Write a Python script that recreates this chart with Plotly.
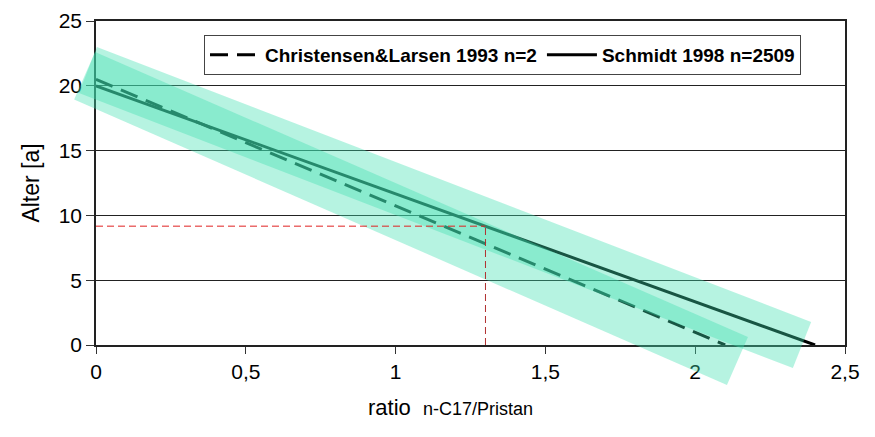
import plotly.graph_objects as go

# ---------------- data ----------------
chr_x = [0.0, 2.1]
chr_y = [20.5, 0.0]
sch_x = [0.0, 2.4]
sch_y = [20.0, 0.0]

# uncertainty bands (hand drawn rotated rectangles, corners)
band_chr_x = [-0.003, 2.176, 2.106, -0.073, -0.003]
band_chr_y = [22.61, 0.62, -3.09, 18.94, 22.61]
band_sch_x = [0.003, 2.387, 2.326, -0.057, 0.003]
band_sch_y = [22.99, 1.78, -1.78, 19.44, 22.99]

# reference reading
ref_x = 1.3
ref_y = 9.17

x_ticks = [0, 0.5, 1, 1.5, 2, 2.5]
y_ticks = [0, 5, 10, 15, 20, 25]

names = ["Christensen&Larsen 1993 n=2", "Schmidt 1998 n=2509"]
x_title = "ratio"
x_subtitle = "n-C17/Pristan"
y_title = "Alter [a]"

# ---------------- layout geometry ----------------
W, H = 875, 437
PL, PR, PT, PB = 96, 845, 21, 345  # plot area in px
XMIN, XMAX, YMIN, YMAX = 0, 2.5, 0, 25

xd = [PL / W, PR / W]
yd = [(H - PB) / H, (H - PT) / H]
xpp = (XMAX - XMIN) / (PR - PL)
ypp = (YMAX - YMIN) / (PB - PT)
x2r = [XMIN - PL * xpp, XMAX + (W - PR) * xpp]
y2r = [YMIN - (H - PB) * ypp, YMAX + PT * ypp]

FONT = "Arial, Liberation Sans, sans-serif"
BAND = "rgba(64,224,176,0.38)"

fig = go.Figure()

fig.add_trace(go.Scatter(x=chr_x, y=chr_y, mode="lines", name=names[0],
                         line=dict(color="black", width=3, dash="18px,9px"),
                         xaxis="x", yaxis="y"))
fig.add_trace(go.Scatter(x=sch_x, y=sch_y, mode="lines", name=names[1],
                         line=dict(color="black", width=3),
                         xaxis="x", yaxis="y"))

for bx, by in [(band_sch_x, band_sch_y), (band_chr_x, band_chr_y)]:
    fig.add_trace(go.Scatter(x=bx, y=by, mode="lines", fill="toself",
                             fillcolor=BAND, line=dict(width=0),
                             showlegend=False, hoverinfo="skip",
                             xaxis="x2", yaxis="y2"))

fig.add_trace(go.Scatter(x=[XMIN, ref_x], y=[ref_y, ref_y], mode="lines",
                         line=dict(color="#e02020", width=1, dash="7px,4px"),
                         showlegend=False, xaxis="x2", yaxis="y2"))
fig.add_trace(go.Scatter(x=[ref_x, ref_x], y=[YMIN, ref_y], mode="lines",
                         line=dict(color="#b03030", width=1, dash="7px,4px"),
                         showlegend=False, xaxis="x2", yaxis="y2"))

fig.update_layout(
    width=W, height=H, autosize=False,
    margin=dict(l=0, r=0, t=0, b=0, pad=0),
    paper_bgcolor="white", plot_bgcolor="rgba(0,0,0,0)",
    separators=", ",
    font=dict(family=FONT, size=21, color="black"),
    showlegend=True,
    legend=dict(orientation="h", x=204 / W, y=(H - 35) / H,
                xanchor="left", yanchor="top",
                bgcolor="white", bordercolor="#444", borderwidth=1,
                font=dict(family=FONT, size=19, color="black", weight="bold"),
                itemwidth=50, tracegroupgap=0),
    xaxis=dict(domain=xd, range=[XMIN, XMAX], tickvals=x_ticks,
               ticks="outside", ticklen=7, tickcolor="#333", tickwidth=1,
               showline=True, linecolor="#222", linewidth=2, mirror=True,
               showgrid=False, zeroline=False, automargin=False,
               tickfont=dict(size=21), anchor="y"),
    yaxis=dict(domain=yd, range=[YMIN, YMAX], tickvals=y_ticks,
               ticks="outside", ticklen=8, tickcolor="#333", tickwidth=1,
               showline=True, linecolor="#222", linewidth=1.5, mirror=True,
               showgrid=True, gridcolor="#222", gridwidth=1,
               zeroline=False, automargin=False,
               tickfont=dict(size=21),
               title=dict(text=y_title, font=dict(size=23), standoff=13),
               anchor="x"),
    xaxis2=dict(domain=[0, 1], range=x2r, visible=False, anchor="y2",
                fixedrange=True),
    yaxis2=dict(domain=[0, 1], range=y2r, visible=False, anchor="x2",
                fixedrange=True),
    annotations=[
        dict(text=x_title + "  <span style='font-size:18px'>" + x_subtitle + "</span>",
             xref="paper", yref="paper", x=366 / W, y=(H - 407) / H,
             xanchor="left", yanchor="middle", showarrow=False,
             font=dict(family=FONT, size=22, color="black")),
    ],
)

fig.write_html("out.html")
